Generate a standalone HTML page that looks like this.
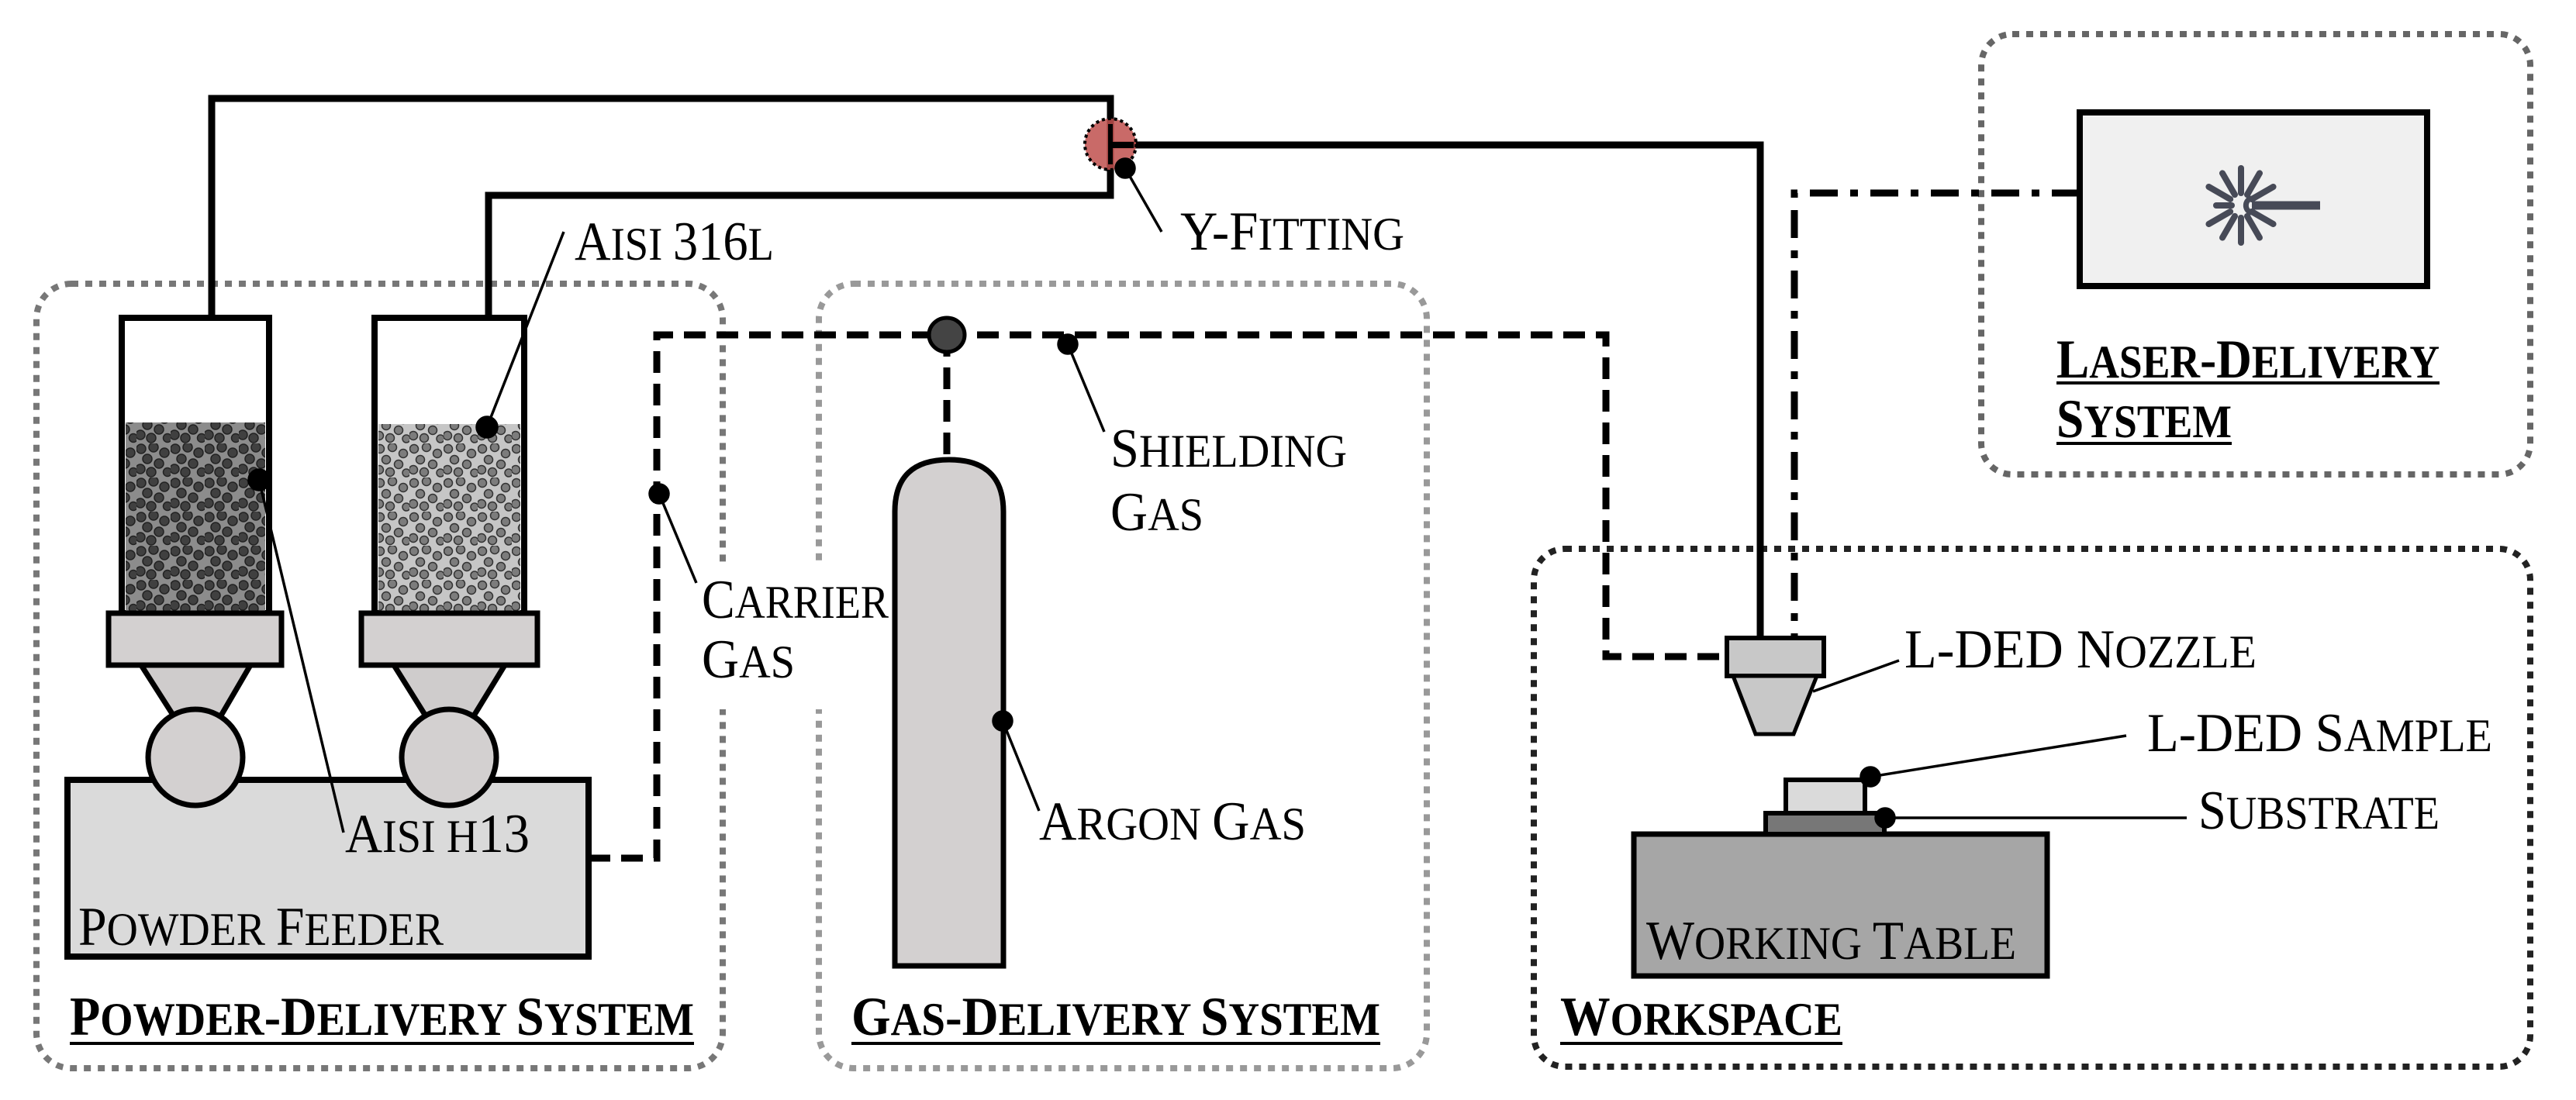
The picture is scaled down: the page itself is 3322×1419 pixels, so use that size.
<!DOCTYPE html>
<html><head><meta charset="utf-8"><style>
html,body{margin:0;padding:0;background:#fff;}
svg{display:block;}
text{font-family:"Liberation Serif",serif;fill:#000;font-size:60px;}
.b{font-weight:bold;}
.c{font-size:71px;}
</style></head><body>
<svg width="3322" height="1419" viewBox="0 0 3322 1419" xmlns="http://www.w3.org/2000/svg">
<defs>
<pattern id="pd" width="44" height="44" patternUnits="userSpaceOnUse">
<rect width="44" height="44" fill="#8c8c8c"/>
<g fill="#404040" stroke="#222" stroke-width="1.5">
<circle cx="6" cy="7" r="6"/><circle cx="22" cy="5" r="6"/><circle cx="36" cy="12" r="6"/>
<circle cx="14" cy="20" r="6"/><circle cx="29" cy="26" r="6"/><circle cx="5" cy="33" r="6"/>
<circle cx="19" cy="37" r="6"/><circle cx="40" cy="37" r="5.5"/></g></pattern>
<pattern id="pl" width="44" height="44" patternUnits="userSpaceOnUse">
<rect width="44" height="44" fill="#c6c6c6"/>
<g fill="#7c7c7c" stroke="#333" stroke-width="1.5">
<circle cx="6" cy="7" r="5.5"/><circle cx="22" cy="5" r="5.5"/><circle cx="36" cy="13" r="5.5"/>
<circle cx="14" cy="21" r="5.5"/><circle cx="30" cy="27" r="5.5"/><circle cx="5" cy="34" r="5.5"/>
<circle cx="19" cy="37" r="5.5"/><circle cx="40" cy="38" r="5"/></g></pattern>
</defs>

<rect x="47" y="366" width="885" height="1012" rx="45" fill="none" stroke="#777" stroke-width="8" stroke-dasharray="9 9"/>
<rect x="1056" y="366" width="784" height="1012" rx="45" fill="none" stroke="#999" stroke-width="8" stroke-dasharray="9 9"/>
<rect x="2555" y="44" width="708" height="568" rx="40" fill="none" stroke="#666" stroke-width="8" stroke-dasharray="9 9"/>
<rect x="1978" y="708" width="1285" height="668" rx="40" fill="none" stroke="#222" stroke-width="8" stroke-dasharray="9 9"/>
<rect x="900" y="725" width="180" height="190" fill="#fff"/>

<polyline points="273,410 273,127 1432,127 1432,252 630,252 630,410" fill="none" stroke="#000" stroke-width="9"/>
<polyline points="1432,187 2270,187 2270,825" fill="none" stroke="#000" stroke-width="9"/>

<polyline points="759,1107 847,1107 847,432 2071,432 2071,847 2227,847" fill="none" stroke="#000" stroke-width="9" stroke-dasharray="28 14"/>
<line x1="1221" y1="432" x2="1221" y2="593" stroke="#000" stroke-width="9" stroke-dasharray="28 14"/>
<polyline points="2682,249 2314,249 2314,823" fill="none" stroke="#000" stroke-width="9" stroke-dasharray="36 16 10 16"/>

<rect x="157" y="410" width="190" height="381" fill="#fff" stroke="#000" stroke-width="8"/>
<rect x="162" y="545" width="180" height="243" fill="url(#pd)"/>
<rect x="483" y="410" width="193" height="381" fill="#fff" stroke="#000" stroke-width="8"/>
<rect x="488" y="547" width="183" height="241" fill="url(#pl)"/>
<polygon points="182,858 323,858 281,930 228,930" fill="#cfcccc" stroke="#000" stroke-width="7"/>
<polygon points="508,858 651,858 607,930 553,930" fill="#cfcccc" stroke="#000" stroke-width="7"/>
<rect x="140" y="791" width="223" height="67" fill="#d3d0d0" stroke="#000" stroke-width="7"/>
<rect x="466" y="791" width="227" height="67" fill="#d3d0d0" stroke="#000" stroke-width="7"/>
<rect x="87" y="1006" width="672" height="228" fill="#dadada" stroke="#000" stroke-width="8"/>
<ellipse cx="252" cy="977" rx="61" ry="62" fill="#d3d0d0" stroke="#000" stroke-width="7"/>
<ellipse cx="579" cy="977" rx="61" ry="62" fill="#d3d0d0" stroke="#000" stroke-width="7"/>

<path d="M1154,1246 L1154,660 Q1154,593 1224,593 Q1294,593 1294,660 L1294,1246 Z" fill="#d3d0d0" stroke="#000" stroke-width="7"/>
<ellipse cx="1221" cy="432" rx="23" ry="22" fill="#444" stroke="#000" stroke-width="5"/>

<circle cx="1432" cy="186" r="33" fill="#c0504d" fill-opacity="0.85" stroke="#000" stroke-width="4" stroke-dasharray="4 4"/>
<line x1="1432" y1="160" x2="1432" y2="212" stroke="#000" stroke-width="6"/>
<line x1="1432" y1="187" x2="1462" y2="187" stroke="#000" stroke-width="8"/>

<rect x="2682" y="145" width="448" height="224" fill="#f0f0f0" stroke="#000" stroke-width="8"/>
<g stroke="#474a57" stroke-width="8" stroke-linecap="round" transform="translate(2890,265)">
<line x1="0" y1="-16" x2="0" y2="-48" transform="rotate(0)"/>
<line x1="0" y1="-16" x2="0" y2="-48" transform="rotate(30)"/>
<line x1="0" y1="-16" x2="0" y2="-48" transform="rotate(60)"/>
<line x1="0" y1="-16" x2="0" y2="-48" transform="rotate(120)"/>
<line x1="0" y1="-16" x2="0" y2="-48" transform="rotate(150)"/>
<line x1="0" y1="-16" x2="0" y2="-48" transform="rotate(180)"/>
<line x1="0" y1="-16" x2="0" y2="-48" transform="rotate(210)"/>
<line x1="0" y1="-16" x2="0" y2="-48" transform="rotate(240)"/>
<line x1="0" y1="-12" x2="0" y2="-32" transform="rotate(270)"/>
<line x1="0" y1="-16" x2="0" y2="-48" transform="rotate(300)"/>
<line x1="0" y1="-16" x2="0" y2="-48" transform="rotate(330)"/>
<path d="M12,-9 A10,10 0 0 0 12,9" fill="none" stroke-width="7"/>
<line x1="14" y1="0" x2="102" y2="0" stroke-width="11" stroke-linecap="butt"/>
</g>

<rect x="2227" y="823" width="125" height="49" fill="#c8c8c8" stroke="#000" stroke-width="6"/>
<polygon points="2235,872 2343,872 2313,947 2264,947" fill="#c8c8c8" stroke="#000" stroke-width="5"/>

<rect x="2107" y="1076" width="533" height="183" fill="#a6a6a6" stroke="#000" stroke-width="7"/>
<rect x="2277" y="1049" width="153" height="27" fill="#777" stroke="#000" stroke-width="6"/>
<rect x="2303" y="1006" width="102" height="43" fill="#dadada" stroke="#000" stroke-width="6"/>

<g stroke="#000" stroke-width="3.5" fill="#000">
<line x1="1451" y1="217" x2="1498" y2="299"/><circle cx="1451" cy="217" r="12"/>
<line x1="628" y1="551" x2="727" y2="299"/><circle cx="628" cy="551" r="13"/>
<line x1="334" y1="619" x2="443" y2="1074"/><circle cx="334" cy="619" r="13"/>
<line x1="850" y1="637" x2="898" y2="752"/><circle cx="850" cy="637" r="12"/>
<line x1="1377" y1="444" x2="1424" y2="557"/><circle cx="1377" cy="444" r="12"/>
<line x1="1293" y1="930" x2="1340" y2="1046"/><circle cx="1293" cy="930" r="12"/>
<line x1="2338" y1="892" x2="2449" y2="852"/>
<line x1="2412" y1="1002" x2="2742" y2="949"/><circle cx="2412" cy="1002" r="12"/>
<line x1="2431" y1="1055" x2="2820" y2="1055"/><circle cx="2431" cy="1055" r="12"/>
</g>

<text x="741" y="335" textLength="257" lengthAdjust="spacingAndGlyphs"><tspan class="c">A</tspan>ISI <tspan class="c">316</tspan>L</text>
<text x="445" y="1099" textLength="238" lengthAdjust="spacingAndGlyphs"><tspan class="c">A</tspan>ISI H<tspan class="c">13</tspan></text>
<text x="101" y="1219" textLength="471" lengthAdjust="spacingAndGlyphs"><tspan class="c">P</tspan>OWDER <tspan class="c">F</tspan>EEDER</text>
<text x="1522" y="322" textLength="289" lengthAdjust="spacingAndGlyphs"><tspan class="c">Y-F</tspan>ITTING</text>
<text x="905" y="797" textLength="241" lengthAdjust="spacingAndGlyphs"><tspan class="c">C</tspan>ARRIER</text>
<text x="905" y="874" textLength="120" lengthAdjust="spacingAndGlyphs"><tspan class="c">G</tspan>AS</text>
<text x="1432" y="602" textLength="305" lengthAdjust="spacingAndGlyphs"><tspan class="c">S</tspan>HIELDING</text>
<text x="1432" y="684" textLength="120" lengthAdjust="spacingAndGlyphs"><tspan class="c">G</tspan>AS</text>
<text x="1340" y="1083" textLength="344" lengthAdjust="spacingAndGlyphs"><tspan class="c">A</tspan>RGON <tspan class="c">G</tspan>AS</text>
<text x="2456" y="861" textLength="454" lengthAdjust="spacingAndGlyphs"><tspan class="c">L-DED N</tspan>OZZLE</text>
<text x="2769" y="969" textLength="445" lengthAdjust="spacingAndGlyphs"><tspan class="c">L-DED S</tspan>AMPLE</text>
<text x="2835" y="1069" textLength="311" lengthAdjust="spacingAndGlyphs"><tspan class="c">S</tspan>UBSTRATE</text>
<text x="2123" y="1237" textLength="477" lengthAdjust="spacingAndGlyphs"><tspan class="c">W</tspan>ORKING <tspan class="c">T</tspan>ABLE</text>

<text class="b" x="90" y="1335" textLength="805" lengthAdjust="spacingAndGlyphs"><tspan class="c">P</tspan>OWDER<tspan class="c">-D</tspan>ELIVERY <tspan class="c">S</tspan>YSTEM</text>
<text class="b" x="1098" y="1335" textLength="682" lengthAdjust="spacingAndGlyphs"><tspan class="c">G</tspan>AS<tspan class="c">-D</tspan>ELIVERY <tspan class="c">S</tspan>YSTEM</text>
<text class="b" x="2012" y="1335" textLength="364" lengthAdjust="spacingAndGlyphs"><tspan class="c">W</tspan>ORKSPACE</text>
<text class="b" x="2652" y="487" textLength="494" lengthAdjust="spacingAndGlyphs"><tspan class="c">L</tspan>ASER<tspan class="c">-D</tspan>ELIVERY</text>
<text class="b" x="2652" y="564" textLength="226" lengthAdjust="spacingAndGlyphs"><tspan class="c">S</tspan>YSTEM</text>
<g stroke="#000" stroke-width="4">
<line x1="90" y1="1346" x2="895" y2="1346"/>
<line x1="1098" y1="1346" x2="1780" y2="1346"/>
<line x1="2012" y1="1346" x2="2376" y2="1346"/>
<line x1="2652" y1="494" x2="3146" y2="494"/>
<line x1="2652" y1="572" x2="2878" y2="572"/>
</g>
</svg>
</body></html>
